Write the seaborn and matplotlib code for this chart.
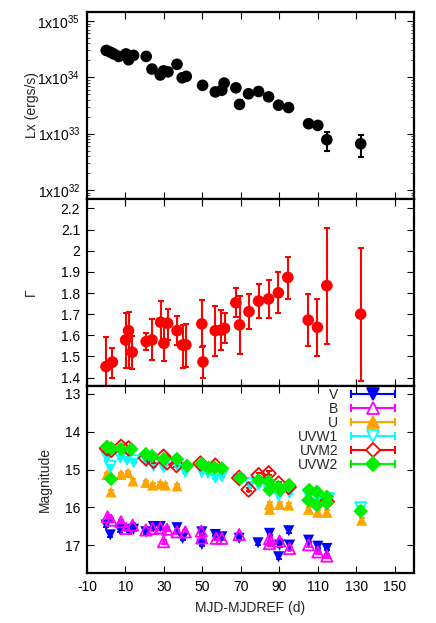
import numpy as np
import pandas as pd
import matplotlib
matplotlib.use("Agg")
import matplotlib.pyplot as plt
import seaborn as sns
from matplotlib.lines import Line2D
from matplotlib.legend_handler import HandlerLine2D
from matplotlib.ticker import FixedLocator, LogLocator, NullFormatter

# ---------------- data ----------------
# X-ray luminosity
lx_t = [0.0, 2.1, 3.9, 6.5, 10.3, 11.6, 14.2, 20.8, 23.8, 28.1, 29.8, 32.1, 36.8, 39.5, 41.6,
        50.1, 56.7, 60.1, 61.3, 67.4, 69.3, 74.0, 79.2, 84.4, 89.6, 94.8, 105.2, 110.0, 114.7, 132.3]
lx_val = [3.0e34, 2.8e34, 2.6e34, 2.35e34, 2.6e34, 2.05e34, 2.45e34, 2.35e34, 1.4e34, 1.1e34,
          1.3e34, 1.25e34, 1.7e34, 9.8e33, 1.04e34, 7.2e33, 5.5e33, 5.9e33, 7.9e33, 6.5e33,
          3.3e33, 5.1e33, 5.6e33, 4.5e33, 3.2e33, 2.9e33, 1.5e33, 1.4e33, 7.8e32, 6.6e32]
lx_lo = [2.8e34, 2.6e34, 2.4e34, 2.2e34, 2.4e34, 1.9e34, 2.3e34, 2.2e34, 1.3e34, 1.0e34,
         1.2e34, 1.15e34, 1.6e34, 9.0e33, 9.6e33, 6.6e33, 5.0e33, 5.4e33, 7.2e33, 5.9e33,
         2.8e33, 4.6e33, 5.1e33, 4.1e33, 2.9e33, 2.6e33, 1.35e33, 1.25e33, 4.9e32, 3.9e32]
lx_hi = [3.2e34, 3.0e34, 2.8e34, 2.5e34, 2.8e34, 2.2e34, 2.6e34, 2.5e34, 1.5e34, 1.2e34,
         1.4e34, 1.35e34, 1.8e34, 1.06e34, 1.12e34, 7.8e33, 6.0e33, 6.4e33, 8.6e33, 7.1e33,
         3.9e33, 5.6e33, 6.1e33, 4.9e33, 3.5e33, 3.2e33, 1.65e33, 1.55e33, 1.05e33, 9.3e32]

# Photon index
g_t = [-0.1, 3.2, 10.1, 11.6, 13.5, 20.8, 23.8, 28.3, 30.0, 31.9, 36.8, 39.7, 41.4, 49.7, 50.3,
       56.7, 59.8, 61.5, 67.4, 69.3, 74.2, 79.2, 84.4, 89.5, 94.4, 105.0, 109.8, 114.7, 132.3]
g_val = [1.452, 1.473, 1.578, 1.622, 1.520, 1.570, 1.578, 1.662, 1.562, 1.657, 1.622, 1.554, 1.555,
         1.654, 1.474, 1.622, 1.625, 1.633, 1.754, 1.649, 1.712, 1.762, 1.772, 1.801, 1.874,
         1.672, 1.638, 1.835, 1.700]
g_lo = [1.31, 1.397, 1.447, 1.444, 1.440, 1.531, 1.484, 1.560, 1.479, 1.580, 1.554, 1.447, 1.450,
        1.543, 1.397, 1.504, 1.531, 1.562, 1.685, 1.510, 1.630, 1.680, 1.680, 1.704, 1.772,
        1.550, 1.502, 1.561, 1.384]
g_hi = [1.594, 1.542, 1.707, 1.712, 1.597, 1.613, 1.676, 1.762, 1.650, 1.723, 1.693, 1.649, 1.654,
        1.767, 1.550, 1.740, 1.720, 1.704, 1.822, 1.786, 1.794, 1.841, 1.861, 1.900, 1.972,
        1.794, 1.770, 2.109, 2.014]

# UVOT magnitudes
v_t = [0.0, 2.1, 7.3, 11.6, 14.2, 20.6, 24.6, 28.1, 36.8, 39.7, 49.7, 49.7, 56.7, 60.1, 69.1,
       78.9, 84.9, 89.6, 90.1, 94.9, 95.3, 105.2, 110.0, 114.7]
v_mag = [16.47, 16.73, 16.60, 16.60, 16.58, 16.65, 16.51, 16.51, 16.54, 16.82, 16.98, 16.65, 16.72,
         16.78, 16.82, 16.94, 16.69, 17.31, 17.00, 16.62, 17.00, 16.87, 17.03, 17.09]

b_t = [0.7, 2.6, 7.7, 10.4, 13.7, 20.6, 24.1, 28.1, 29.8, 31.6, 36.8, 41.1, 49.4, 49.7, 57.2,
       60.1, 69.1, 84.9, 84.9, 90.1, 95.3, 105.2, 110.0, 114.7]
b_mag = [16.25, 16.34, 16.38, 16.56, 16.47, 16.60, 16.56, 16.54, 16.91, 16.58, 16.65, 16.65, 16.63,
         16.81, 16.82, 16.82, 16.72, 16.96, 16.83, 16.89, 17.09, 16.99, 17.18, 17.29]

u_t = [0.4, 2.5, 7.7, 11.3, 13.9, 20.6, 24.1, 28.1, 30.7, 36.8, 84.9, 84.9, 90.1, 94.9, 105.2,
       110.0, 114.7, 132.8]
u_mag = [15.13, 15.59, 15.13, 15.08, 15.30, 15.34, 15.41, 15.38, 15.41, 15.43, 15.92, 16.05, 15.92,
         15.94, 16.05, 16.13, 16.13, 16.34]

w1_t = [0.4, 2.1, 7.3, 10.8, 14.2, 21.0, 24.6, 29.8, 36.8, 41.1, 49.7, 52.9, 56.7, 60.1, 69.1,
        74.8, 79.2, 84.4, 89.6, 95.3, 105.2, 110.5, 115.6, 132.3]
w1_mag = [14.66, 14.92, 14.66, 14.72, 14.77, 14.77, 14.88, 14.92, 14.86, 15.04, 15.04, 15.07, 15.19,
          15.16, 15.28, 15.37, 15.38, 15.52, 15.66, 15.59, 15.68, 15.81, 15.77, 16.01]

m2_t = [0.4, 2.6, 7.7, 11.6, 20.6, 24.6, 29.8, 31.6, 36.5, 49.0, 56.7, 69.1, 74.0, 79.2, 84.4,
        89.6, 94.9, 114.7]
m2_mag = [14.44, 14.48, 14.40, 14.44, 14.70, 14.77, 14.66, 14.81, 14.88, 14.84, 14.90, 15.22, 15.53,
          15.15, 15.10, 15.37, 15.46, 15.85]

w2_t = [0.4, 2.6, 2.5, 7.7, 13.0, 20.6, 23.8, 30.0, 36.8, 42.0, 49.7, 53.2, 56.3, 60.1, 69.7,
        79.2, 84.4, 84.9, 89.5, 90.4, 95.1, 105.5, 105.1, 109.5, 109.5, 114.7, 114.7, 132.3]
w2_mag = [14.40, 14.44, 15.25, 14.46, 14.46, 14.59, 14.64, 14.72, 14.72, 14.90, 14.85, 14.95, 14.95,
          14.97, 15.23, 15.28, 15.32, 15.54, 15.46, 15.54, 15.41, 15.54, 15.81, 15.59, 15.94,
          15.72, 15.88, 16.10]

filters = ["V", "B", "U", "UVW1", "UVM2", "UVW2"]
x_ticks = [-10, 10, 30, 50, 70, 90, 110, 130, 150]

# ---------------- style ----------------
sns.set_theme(style="ticks")
plt.rcParams["font.family"] = ["Liberation Sans", "DejaVu Sans"]
plt.rcParams["mathtext.fontset"] = "custom"
plt.rcParams["mathtext.rm"] = "Liberation Sans"
plt.rcParams["mathtext.it"] = "Liberation Sans"

fig = plt.figure(figsize=(4.36, 6.23), dpi=100)
L, W = 0.1995, 0.750
ax1 = fig.add_axes([L, 0.6806, W, 0.3002])
ax2 = fig.add_axes([L, 0.3804, W, 0.3002], sharex=ax1)
ax3 = fig.add_axes([L, 0.0807, W, 0.2997], sharex=ax1)

TICK_FS = 10
LAB_FS = 10


def style_axis(ax):
    for s in ax.spines.values():
        s.set_linewidth(1.6)
        s.set_color("black")
    ax.tick_params(which="major", direction="in", length=5, width=0.8, top=True, right=True,
                   labelsize=TICK_FS, colors="black", pad=5)
    ax.tick_params(which="minor", direction="in", length=2.5, width=0.6, top=True, right=True)


# ---- top panel: Lx ----
lx = pd.DataFrame({"t": lx_t, "L": lx_val})
ax1.errorbar(lx_t, lx_val,
             yerr=[np.array(lx_val) - np.array(lx_lo), np.array(lx_hi) - np.array(lx_val)],
             fmt="none", ecolor="black", elinewidth=1.5, capsize=2.5, capthick=1.5, zorder=2)
sns.scatterplot(data=lx, x="t", y="L", ax=ax1, color="black", s=70, edgecolor="none",
                marker="o", zorder=3, legend=False)
ax1.set_yscale("log")
ax1.set_ylim(10 ** 31.84, 10 ** 35.16)
ax1.yaxis.set_major_locator(FixedLocator([1e32, 1e33, 1e34, 1e35]))
ax1.set_yticklabels([r"1x10$^{32}$", r"1x10$^{33}$", r"1x10$^{34}$", r"1x10$^{35}$"])
ax1.yaxis.set_minor_locator(LogLocator(base=10, subs=np.arange(2, 10)))
ax1.yaxis.set_minor_formatter(NullFormatter())
ax1.set_ylabel("Lx (ergs/s)", fontsize=LAB_FS, labelpad=-1)
ax1.set_xlabel("")
style_axis(ax1)
ax1.tick_params(labelbottom=False)

# ---- middle panel: Gamma ----
gd = pd.DataFrame({"t": g_t, "G": g_val})
ax2.errorbar(g_t, g_val,
             yerr=[np.array(g_val) - np.array(g_lo), np.array(g_hi) - np.array(g_val)],
             fmt="none", ecolor="red", elinewidth=1.5, capsize=2.5, capthick=1.5, zorder=2)
sns.scatterplot(data=gd, x="t", y="G", ax=ax2, color="red", s=70, edgecolor="none",
                marker="o", zorder=3, legend=False)
ax2.set_ylim(1.36, 2.245)
ax2.set_yticks(np.round(np.arange(1.4, 2.21, 0.1), 1))
ax2.set_yticklabels(["1.4", "1.5", "1.6", "1.7", "1.8", "1.9", "2", "2.1", "2.2"])
ax2.set_ylabel("Γ", fontsize=LAB_FS, labelpad=16)
ax2.set_xlabel("")
style_axis(ax2)
ax2.tick_params(labelbottom=False)

# ---- bottom panel: magnitudes ----
series = {
    "V": (v_t, v_mag, "#0000ff", "v", True),
    "B": (b_t, b_mag, "#ff00ff", "^", False),
    "U": (u_t, u_mag, "#ffa500", "^", True),
    "UVW1": (w1_t, w1_mag, "#00ffff", "v", False),
    "UVM2": (m2_t, m2_mag, "#ff0000", "D", False),
    "UVW2": (w2_t, w2_mag, "#00ee00", "D", True),
}
handles = []
hmap = {}
for name in filters:
    t, m, col, mk, filled = series[name]
    ax3.errorbar(t, m, yerr=0.05, xerr=0.4, fmt="none", ecolor=col, elinewidth=1.3,
                 capsize=2, capthick=1.3, zorder=2)
    df = pd.DataFrame({"t": t, "m": m})
    size = 55 if mk == "D" else 65
    if filled:
        sns.scatterplot(data=df, x="t", y="m", ax=ax3, color=col, marker=mk, s=size,
                        edgecolor="none", zorder=3, legend=False)
    else:
        sns.scatterplot(data=df, x="t", y="m", ax=ax3, marker=mk, s=size,
                        facecolor="none", edgecolor=col, linewidth=1.3, zorder=3, legend=False)
    # legend handle (gnuplot-like: horizontal bar with end caps and central marker)
    msz = 8 if mk != "D" else 7
    h_line = Line2D([], [], color=col, lw=1.5, marker="|", markersize=6, markeredgewidth=1.5)
    h_mark = Line2D([], [], color=col, lw=0, marker=mk, markersize=msz,
                    markerfacecolor=col if filled else "white", markeredgecolor=col,
                    markeredgewidth=1.3)
    hmap[h_line] = HandlerLine2D(numpoints=2)
    handles.append((h_line, h_mark))

ax3.set_ylim(17.73, 12.79)
ax3.set_yticks([13, 14, 15, 16, 17])
ax3.set_xlim(-10, 160)
ax3.set_xticks(x_ticks)
ax3.set_xticklabels([str(v) for v in x_ticks])
ax3.set_ylabel("Magnitude", fontsize=LAB_FS, labelpad=9)
ax3.set_xlabel("MJD-MJDREF (d)", fontsize=LAB_FS, labelpad=5)
style_axis(ax3)

leg = ax3.legend(handles, filters, loc="upper right", bbox_to_anchor=(0.955, 0.99),
                 frameon=False, markerfirst=False,
                 fontsize=LAB_FS, handlelength=3.8, handletextpad=0.6, labelspacing=0.0,
                 borderaxespad=0.0, borderpad=0.0, handler_map=hmap)
for txt in leg.get_texts():
    txt.set_ha("right")
leg._legend_box.align = "right"

fig.savefig("out.png", dpi=100)
